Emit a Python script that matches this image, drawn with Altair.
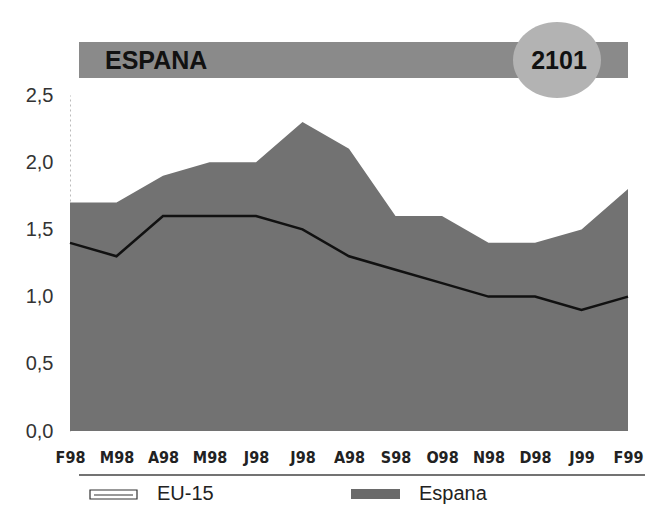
import altair as alt
import pandas as pd

months = ["F98", "M98", "A98", "M98", "J98", "J98", "A98", "S98", "O98", "N98", "D98", "J99", "F99"]
espana = [1.7, 1.7, 1.9, 2.0, 2.0, 2.3, 2.1, 1.6, 1.6, 1.4, 1.4, 1.5, 1.8]
eu15 = [1.4, 1.3, 1.6, 1.6, 1.6, 1.5, 1.3, 1.2, 1.1, 1.0, 1.0, 0.9, 1.0]
y_ticks = [0.0, 0.5, 1.0, 1.5, 2.0, 2.5]
title_text = "ESPANA"
badge_text = "2101"
legend_labels = ["EU-15", "Espana"]

df = pd.DataFrame({"idx": list(range(len(months))), "month": months, "espana": espana, "eu15": eu15})

label_array = "[" + ",".join("'%s'" % m for m in months) + "]"
SANS = "'Liberation Sans', Arial, sans-serif"
NARROW = "'Liberation Sans Narrow', 'DejaVu Sans Condensed', sans-serif"

W, H = 558, 336

x_enc = alt.X(
    "idx:Q",
    scale=alt.Scale(domain=[0, len(months) - 1], nice=False, zero=False),
    axis=alt.Axis(
        values=list(range(len(months))),
        labelExpr=label_array + "[datum.value]",
        title=None, grid=False, domain=False, ticks=False,
        labelFont=NARROW, labelFontSize=16, labelFontWeight="bold", labelColor="#222",
        labelPadding=18, labelFlush=False,
    ),
)
y_scale = alt.Scale(domain=[0, 2.5], nice=False)

area = alt.Chart(df).mark_area(color="#727272", opacity=1, line=False).encode(
    x=x_enc,
    y=alt.Y(
        "espana:Q", scale=y_scale,
        axis=alt.Axis(
            values=y_ticks, title=None, grid=False, ticks=False,
            labelExpr="replace(format(datum.value, '.1f'), '.', ',')",
            labelFont=SANS, labelFontSize=20, labelColor="#333", labelPadding=17,
            domain=True, domainColor="#bbbbbb", domainDash=[2, 3], domainWidth=1,
        ),
    ),
)

line = alt.Chart(df).mark_line(color="#111111", strokeWidth=2.5).encode(
    x="idx:Q",
    y=alt.Y("eu15:Q", scale=y_scale),
)

one = alt.Data(values=[{"a": 1}])

title_bar = alt.Chart(one).mark_rect(color="#8a8a8a").encode(
    x=alt.value(9), x2=alt.value(558), y=alt.value(-53), y2=alt.value(-17)
)
title_lbl = alt.Chart(one).mark_text(
    text=title_text, font=SANS, fontSize=25, fontWeight="bold", color="#111",
    align="left", baseline="middle",
).encode(x=alt.value(35), y=alt.value(-34))

oval = alt.Chart(one).mark_point(
    shape="M -1 0 A 1 0.864 0 1 0 1 0 A 1 0.864 0 1 0 -1 0 Z",
    filled=True, fill="#b3b3b3", opacity=1, strokeWidth=0, size=7744,
).encode(x=alt.value(487), y=alt.value(-35))
badge_lbl = alt.Chart(one).mark_text(
    text=badge_text, font=SANS, fontSize=25, fontWeight="bold", color="#111",
    align="center", baseline="middle",
).encode(x=alt.value(489), y=alt.value(-34))

sep_line = alt.Chart(one).mark_rule(color="#444", strokeWidth=1.5).encode(
    x=alt.value(9), x2=alt.value(575), y=alt.value(380)
)

leg1_box = alt.Chart(one).mark_rect(fill="white", stroke="#333", strokeWidth=1.2).encode(
    x=alt.value(20), x2=alt.value(67), y=alt.value(395), y2=alt.value(404)
)
leg1_inner = alt.Chart(one).mark_rule(color="#333", strokeWidth=1.2).encode(
    x=alt.value(24), x2=alt.value(63), y=alt.value(400)
)
leg1_txt = alt.Chart(one).mark_text(
    text=legend_labels[0], font=SANS, fontSize=20, color="#222", align="left", baseline="middle"
).encode(x=alt.value(87), y=alt.value(399))

leg2_box = alt.Chart(one).mark_rect(fill="#6a6a6a").encode(
    x=alt.value(281), x2=alt.value(330), y=alt.value(394), y2=alt.value(404)
)
leg2_txt = alt.Chart(one).mark_text(
    text=legend_labels[1], font=SANS, fontSize=20, color="#222", align="left", baseline="middle"
).encode(x=alt.value(349), y=alt.value(399))

chart = alt.layer(
    area, line, title_bar, oval, title_lbl, badge_lbl, sep_line,
    leg1_box, leg1_inner, leg1_txt, leg2_box, leg2_txt,
).properties(
    width=W, height=H,
    autosize=alt.AutoSizeParams(type="none"),
    padding={"left": 62, "top": 87, "right": 18, "bottom": 74},
    background="white",
).configure_view(stroke=None)

chart.save("out.html", embed_options={"renderer": "svg", "actions": False})
